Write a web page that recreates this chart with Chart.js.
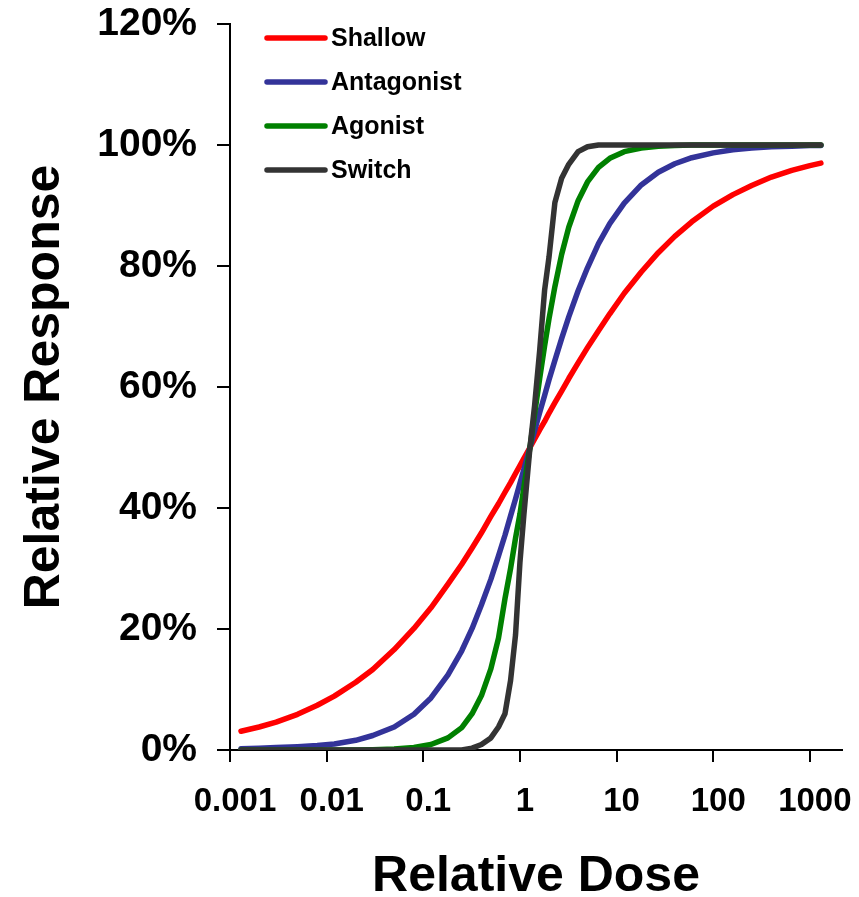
<!DOCTYPE html>
<html>
<head>
<meta charset="utf-8">
<script src="https://cdn.jsdelivr.net/npm/chart.js@4.4.1/dist/chart.umd.min.js"></script>
<style>
html,body{margin:0;padding:0;background:#fff;}
#wrap{width:859px;height:897px;}
</style>
</head>
<body>
<div id="wrap"><canvas id="c" width="859" height="897"></canvas></div>
<script>
// Relative dose (x) shared by all series
const doses = [0.0013, 0.002, 0.003, 0.005, 0.008, 0.012, 0.02, 0.03, 0.05, 0.08, 0.12, 0.18, 0.25, 0.32, 0.4, 0.5, 0.6, 0.7, 0.8, 0.9, 1.0, 1.1, 1.27, 1.42, 1.6, 1.8, 2.0, 2.3, 2.7, 3.2, 4, 5, 6.5, 8.5, 12, 18, 27, 40, 60, 100, 160, 250, 400, 650, 1000, 1300];

// Relative response (%)
const shallow = [3.1, 3.8, 4.6, 5.9, 7.4, 8.9, 11.2, 13.3, 16.6, 20.1, 23.5, 27.4, 30.7, 33.4, 35.9, 38.6, 40.7, 42.6, 44.2, 45.7, 47.0, 48.2, 50.0, 51.4, 52.9, 54.3, 55.7, 57.4, 59.3, 61.4, 64.0, 66.5, 69.3, 72.1, 75.5, 79.0, 82.2, 84.9, 87.3, 89.9, 91.8, 93.3, 94.7, 95.8, 96.6, 97.0];
const antagonist = [0.2, 0.3, 0.4, 0.55, 0.75, 1.0, 1.6, 2.4, 3.8, 5.9, 8.6, 12.4, 16.4, 20.1, 24.0, 28.2, 32.1, 35.5, 38.7, 41.5, 44.1, 46.4, 50.0, 52.8, 55.8, 58.6, 61.2, 64.4, 68.0, 71.6, 75.9, 79.7, 83.7, 87.0, 90.4, 93.4, 95.5, 96.9, 97.9, 98.7, 99.2, 99.5, 99.7, 99.8, 99.9, 99.9];
const agonist = [0, 0, 0, 0, 0, 0.01, 0.02, 0.06, 0.15, 0.4, 0.9, 2.0, 3.7, 6.0, 9.0, 13.4, 18.5, 25, 30, 35, 39, 43.5, 50, 55.6, 61.4, 66.8, 71.3, 76.6, 81.9, 86.4, 90.8, 93.9, 96.3, 97.8, 98.9, 99.5, 99.8, 99.9, 100, 100, 100, 100, 100, 100, 100, 100];
const switchResp = [0, 0, 0, 0, 0, 0, 0, 0, 0, 0, 0, 0, 0, 0.3, 0.9, 2.0, 3.8, 6.0, 11.5, 19, 31, 39, 50, 57, 66, 76, 81.5, 90.5, 94.5, 96.8, 98.9, 99.7, 100, 100, 100, 100, 100, 100, 100, 100, 100, 100, 100, 100, 100, 100];

const seriesNames = ['Shallow', 'Antagonist', 'Agonist', 'Switch'];
const seriesColors = ['#ff0000', '#333399', '#008000', '#333333'];

const xTickValues = [0.001, 0.01, 0.1, 1, 10, 100, 1000];
const xTickLabels = ['0.001', '0.01', '0.1', '1', '10', '100', '1000'];
const yTickValues = [0, 20, 40, 60, 80, 100, 120];
const yTickLabels = ['0%', '20%', '40%', '60%', '80%', '100%', '120%'];

const FONT = "'Liberation Sans', Arial, Helvetica, sans-serif";

const series = [shallow, antagonist, agonist, switchResp];
const datasets = series.map((vals, i) => ({
  label: seriesNames[i],
  data: doses.map((d, j) => ({ x: d, y: vals[j] })),
  borderColor: seriesColors[i],
  backgroundColor: seriesColors[i],
  borderWidth: 5.5,
  pointRadius: 0,
  pointHoverRadius: 0,
  tension: 0,
  fill: false,
  borderCapStyle: 'round',
  borderJoinStyle: 'round',
  order: series.length - i
}));

const insideLegend = {
  id: 'insideLegend',
  afterDatasetsDraw(chart) {
    const ctx = chart.ctx;
    const a = chart.chartArea;
    ctx.save();
    chart.data.datasets.forEach((ds, i) => {
      const y = a.top + 14 + i * 44;
      ctx.strokeStyle = ds.borderColor;
      ctx.lineWidth = 5.5;
      ctx.lineCap = 'round';
      ctx.beginPath();
      ctx.moveTo(a.left + 37, y);
      ctx.lineTo(a.left + 95, y);
      ctx.stroke();
      ctx.fillStyle = '#000';
      ctx.font = 'bold 25px ' + FONT;
      ctx.textBaseline = 'middle';
      ctx.textAlign = 'left';
      ctx.fillText(ds.label, a.left + 101, y + 1);
    });
    ctx.restore();
  }
};

new Chart(document.getElementById('c'), {
  type: 'line',
  data: { datasets },
  options: {
    responsive: false,
    animation: false,
    devicePixelRatio: 1,
    layout: { padding: { left: 0, right: 17, top: 24, bottom: 0 } },
    plugins: { legend: { display: false }, tooltip: { enabled: false } },
    scales: {
      x: {
        type: 'logarithmic',
        position: 'bottom',
        min: 0.001,
        max: 2150,
        afterBuildTicks(s) { s.ticks = xTickValues.map(v => ({ value: v })); },
        afterFit(s) { s.height = 147; s.paddingLeft = 0; s.paddingRight = 0; },
        ticks: {
          callback: (v, i) => xTickLabels[i],
          font: { family: FONT, size: 33, weight: 'bold' },
          color: '#000',
          padding: 20,
          labelOffset: 5,
          maxRotation: 0,
          autoSkip: false
        },
        grid: { drawOnChartArea: false, drawTicks: true, tickLength: 12, color: '#000', lineWidth: 2 },
        border: { display: true, color: '#000', width: 2 },
        title: {
          display: true,
          text: 'Relative Dose',
          color: '#000',
          font: { family: FONT, size: 50, weight: 'bold', lineHeight: 0.8 },
          padding: { top: 0, bottom: 0 }
        }
      },
      y: {
        min: 0,
        max: 120,
        afterBuildTicks(s) { s.ticks = yTickValues.map(v => ({ value: v })); },
        afterFit(s) { s.width = 230; s.paddingTop = 0; s.paddingBottom = 0; },
        ticks: {
          callback: (v, i) => yTickLabels[i],
          font: { family: FONT, size: 39, weight: 'bold' },
          color: '#000',
          padding: 20
        },
        grid: { drawOnChartArea: false, drawTicks: true, tickLength: 13, color: '#000', lineWidth: 2 },
        border: { display: true, color: '#000', width: 2 },
        title: {
          display: true,
          text: 'Relative Response',
          color: '#000',
          font: { family: FONT, size: 50, weight: 'bold', lineHeight: 1 },
          padding: { top: 20, bottom: 0 }
        }
      }
    }
  },
  plugins: [insideLegend]
});
</script>
</body>
</html>
